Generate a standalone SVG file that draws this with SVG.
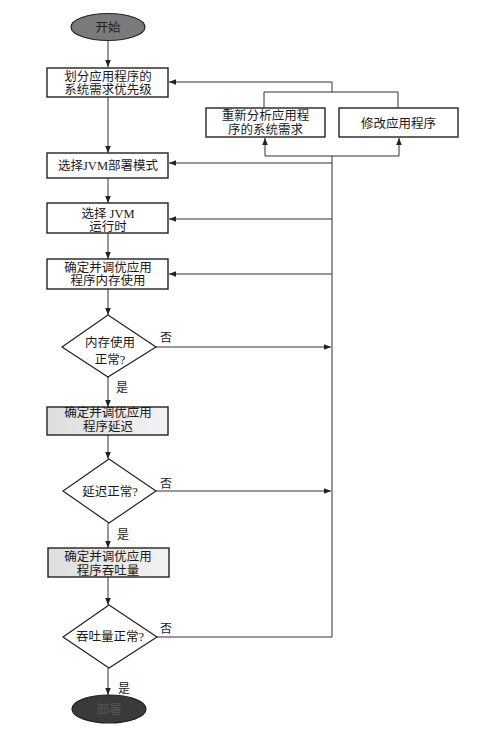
<svg xmlns="http://www.w3.org/2000/svg" width="478" height="732" viewBox="0 0 478 732">
<style>
  text { font-family: "Liberation Serif", "Noto Sans CJK SC", serif; font-size: 12.5px; fill: #1a1a1a; text-anchor: middle; }
  .lbl { font-size: 12px; text-anchor: start; }
  .box { fill: #ffffff; stroke: #222; stroke-width: 1.4; }
  .gbox { fill: url(#g); stroke: #222; stroke-width: 1.4; }
  .dia { fill: #ffffff; stroke: #222; stroke-width: 1.2; }
  .term { stroke: #222; stroke-width: 1.2; }
  .ln { fill: none; stroke: #333; stroke-width: 1; }
  .arr { fill: none; stroke: #333; stroke-width: 1; marker-end: url(#ah); }
</style>
<defs>
  <marker id="ah" viewBox="0 0 10 10" refX="10" refY="5" markerWidth="7" markerHeight="7" markerUnits="userSpaceOnUse" orient="auto">
    <path d="M0,1 L10,5 L0,9 Z" fill="#222"/>
  </marker>
  <linearGradient id="g" x1="0" y1="0" x2="1" y2="0">
    <stop offset="0" stop-color="#dedede"/>
    <stop offset="1" stop-color="#f2f2f2"/>
  </linearGradient>
</defs>
<rect width="478" height="732" fill="#ffffff"/>

<g id="connectors">
  <line class="arr" x1="108" y1="41" x2="108" y2="67"/>
  <line class="arr" x1="108" y1="97" x2="108" y2="153"/>
  <line class="arr" x1="108" y1="178" x2="108" y2="203"/>
  <line class="arr" x1="108" y1="233" x2="108" y2="259"/>
  <line class="arr" x1="108" y1="289" x2="108" y2="315"/>
  <line class="arr" x1="108" y1="377" x2="108" y2="407"/>
  <line class="arr" x1="108" y1="435" x2="108" y2="459"/>
  <line class="arr" x1="108" y1="523" x2="108" y2="548"/>
  <line class="arr" x1="108" y1="577" x2="108" y2="605"/>
  <line class="arr" x1="108" y1="668" x2="108" y2="695"/>
  <!-- main return column -->
  <line class="ln" x1="332" y1="156" x2="332" y2="637"/>
  <line class="ln" x1="157" y1="637" x2="332" y2="637"/>
  <line class="arr" x1="156" y1="347" x2="331" y2="347"/>
  <line class="arr" x1="156" y1="491" x2="331" y2="491"/>
  <line class="arr" x1="332" y1="163" x2="169" y2="163"/>
  <line class="arr" x1="332" y1="219" x2="169" y2="219"/>
  <line class="arr" x1="332" y1="274" x2="169" y2="274"/>
  <!-- bottom feed to right boxes -->
  <line class="ln" x1="265" y1="156" x2="399" y2="156"/>
  <line class="arr" x1="265" y1="156" x2="265" y2="138"/>
  <line class="arr" x1="399" y1="156" x2="399" y2="138"/>
  <!-- top return to box1 -->
  <polyline class="ln" points="264,108 264,92 398,92 398,108"/>
  <line class="ln" x1="332" y1="92" x2="332" y2="82"/>
  <line class="arr" x1="332" y1="82" x2="169" y2="82"/>
  <text class="lbl" x="160" y="342">否</text>
  <text class="lbl" x="116" y="392">是</text>
  <text class="lbl" x="160" y="488">否</text>
  <text class="lbl" x="117" y="539">是</text>
  <text class="lbl" x="160" y="633">否</text>
  <text class="lbl" x="118" y="693">是</text>
</g>

<g id="start">
  <ellipse class="term" cx="108" cy="27" rx="37" ry="13.5" fill="#7a7a7a"/>
  <text x="108" y="31.5" style="fill:#222">开始</text>
</g>
<g id="n1">
  <rect class="box" x="47" y="68" width="121" height="29"/>
  <text x="108" y="80.5">划分应用程序的</text>
  <text x="108" y="93.5">系统需求优先级</text>
</g>
<g id="reanalyze">
  <rect class="box" x="206" y="108" width="119" height="29"/>
  <text x="265.5" y="119.5">重新分析应用程</text>
  <text x="265.5" y="134">序的系统需求</text>
</g>
<g id="modify">
  <rect class="box" x="339" y="108" width="119" height="29"/>
  <text x="398.5" y="127.5">修改应用程序</text>
</g>
<g id="n2">
  <rect class="box" x="47" y="153" width="121" height="25"/>
  <text x="108" y="170">选择JVM部署模式</text>
</g>
<g id="n3">
  <rect class="box" x="47" y="203" width="121" height="30"/>
  <text x="108" y="217.5">选择 JVM</text>
  <text x="108" y="231">运行时</text>
</g>
<g id="n4">
  <rect class="box" x="47" y="259" width="121" height="30"/>
  <text x="108" y="271.5">确定并调优应用</text>
  <text x="108" y="285">程序内存使用</text>
</g>
<g id="d1">
  <polygon class="dia" points="108,315 156,347 108,377 62,347"/>
  <text x="110" y="347">内存使用</text>
  <text x="110" y="364">正常?</text>
</g>
<g id="n5">
  <rect class="gbox" x="47" y="407" width="121" height="28"/>
  <text x="108" y="416.5">确定并调优应用</text>
  <text x="108" y="431">程序延迟</text>
</g>
<g id="d2">
  <polygon class="dia" points="109,459 156,491 109,523 63,491"/>
  <text x="110" y="496">延迟正常?</text>
</g>
<g id="n6">
  <rect class="gbox" x="48" y="548" width="121" height="29"/>
  <text x="108" y="560.5">确定并调优应用</text>
  <text x="108" y="575">程序吞吐量</text>
</g>
<g id="d3">
  <polygon class="dia" points="109,605 157,637 109,668 63,637"/>
  <text x="110" y="641">吞吐量正常?</text>
</g>
<g id="end">
  <ellipse class="term" cx="109" cy="709" rx="37" ry="14" fill="#3a3a3a"/>
  <text x="109" y="713.5" style="fill:#555">部署</text>
</g>
</svg>
